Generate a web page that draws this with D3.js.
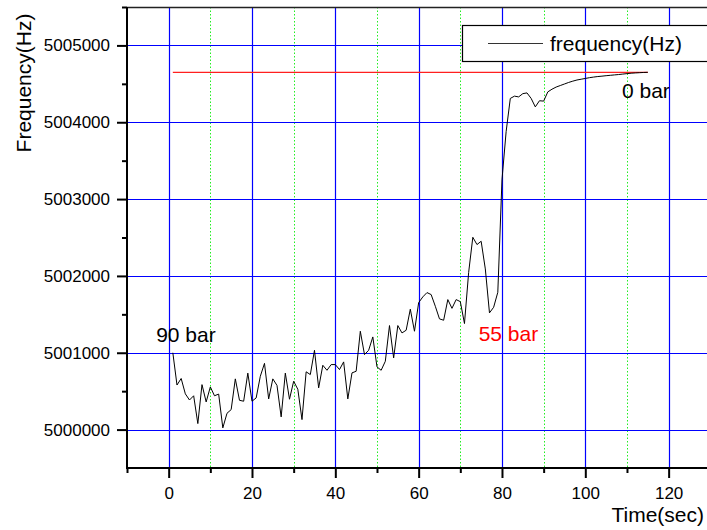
<!DOCTYPE html>
<html><head><meta charset="utf-8">
<script src="https://cdn.jsdelivr.net/npm/d3@7"></script>
<style>body{margin:0;background:#fff} svg{display:block}</style>
</head><body><svg id="c" width="707" height="530"></svg>
<script>
// ---- data ----
const times = [1,2,3,4,5,6,7,8,9,10,11,12,13,14,15,16,17,18,19,20,
  21,22,23,24,25,26,27,28,29,30,31,32,33,34,35,36,37,38,39,40,
  41,42,43,44,45,46,47,48,49,50,51,52,53,54,55,56,57,58,59,60,
  61,62,63,64,65,66,67,68,69,70,71,72,73,74,75,76,77,78,79,80,
  81,82,83,84,85,86,87,88,89,90,91,92,93,94,95,96,97,98,99,100,
  101,102,103,104,105,106,107,108,109,110,111,112,113,114,115];
const frequency = [5001000,5000580,5000665,5000465,5000385,5000440,5000078,5000585,5000360,5000555,
  5000440,5000462,5000022,5000212,5000260,5000660,5000381,5000369,5000735,5000369,
  5000412,5000694,5000862,5000399,5000660,5000575,5000165,5000735,5000395,5000629,
  5000525,5000130,5000752,5000716,5001032,5000543,5000837,5000772,5000846,5000846,
  5000781,5000881,5000399,5000738,5000759,5001280,5000976,5001032,5001206,5000816,
  5000772,5000889,5001354,5000933,5001354,5001258,5001293,5001567,5001280,5001652,
  5001727,5001783,5001757,5001605,5001441,5001423,5001692,5001578,5001692,5001665,
  5001380,5002045,5002503,5002408,5002451,5002091,5001519,5001592,5001787,5003250,
  5003880,5004310,5004340,5004330,5004372,5004382,5004310,5004200,5004280,5004275,
  5004395,5004430,5004458,5004478,5004498,5004518,5004535,5004550,5004560,5004570,
  5004580,5004588,5004595,5004600,5004606,5004611,5004616,5004621,5004627,5004633,
  5004638,5004642,5004645,5004648,5004650];
const refTimes = [1, 115];
const refFrequency = [5004650, 5004650];
const annotText = ["90 bar", "55 bar", "0 bar"];
const annotTime = [-3, 74.4, 108.8];
const annotFreq = [5001145, 5001158, 5004317];
const annotColor = ["#000000", "#ff0000", "#000000"];
const xMajorTicks = [0,20,40,60,80,100,120];
const xMinorTicks = [-10,10,30,50,70,90,110,130];
const yMajorTicks = [5000000,5001000,5002000,5003000,5004000,5005000];
const yMinorTicks = [5000500,5001500,5002500,5003500,5004500,5005500];
const legendLabel = "frequency(Hz)";
const xTitle = "Time(sec)";
const yTitle = "Frequency(Hz)";

// ---- drawing ----
const svg = d3.select("#c");
const L = 127, R = 710.3, T = 7, B = 468;
const x = d3.scaleLinear().domain([-10, 130]).range([L, R]);
const y = d3.scaleLinear().domain([4999500, 5005500]).range([B, T]);
const font = "'Liberation Sans', Arial, sans-serif";

const grid = svg.append("g");
grid.selectAll(".vmin").data(xMinorTicks.filter(d => d > -10)).enter().append("line")
  .attr("x1", d => Math.round(x(d)) + 0.5).attr("x2", d => Math.round(x(d)) + 0.5)
  .attr("y1", T).attr("y2", B)
  .attr("stroke", "#22ee22").attr("stroke-width", 1).attr("stroke-dasharray", "1.5,2");
grid.selectAll(".vmaj").data(xMajorTicks).enter().append("line")
  .attr("x1", d => Math.round(x(d)) + 0.5).attr("x2", d => Math.round(x(d)) + 0.5)
  .attr("y1", T).attr("y2", B)
  .attr("stroke", "#0000ff").attr("stroke-width", 1.2);
grid.selectAll(".hmaj").data(yMajorTicks).enter().append("line")
  .attr("x1", L).attr("x2", R)
  .attr("y1", d => Math.round(y(d)) + 0.5).attr("y2", d => Math.round(y(d)) + 0.5)
  .attr("stroke", "#0000ff").attr("stroke-width", 1.2);

// reference line
svg.append("line")
  .attr("x1", x(refTimes[0])).attr("x2", x(refTimes[1]))
  .attr("y1", y(refFrequency[0])).attr("y2", y(refFrequency[1]))
  .attr("stroke", "#ff2020").attr("stroke-width", 1.3);

// data line
const pts = times.map((t, i) => [t, frequency[i]]);
svg.append("path").datum(pts)
  .attr("d", d3.line().x(d => x(d[0])).y(d => y(d[1])))
  .attr("fill", "none").attr("stroke", "#000").attr("stroke-width", 1);

// annotations
svg.selectAll(".ann").data(annotText).enter().append("text")
  .attr("x", (d, i) => x(annotTime[i])).attr("y", (d, i) => y(annotFreq[i]))
  .attr("fill", (d, i) => annotColor[i])
  .attr("font-family", font).attr("font-size", 21).text(d => d);

// legend
const lg = svg.append("g");
lg.append("rect").attr("x", 462.5).attr("y", 25.5).attr("width", 260).attr("height", 36)
  .attr("fill", "#fff").attr("stroke", "#000").attr("stroke-width", 1.2);
lg.append("line").attr("x1", 488).attr("x2", 543).attr("y1", 43.5).attr("y2", 43.5)
  .attr("stroke", "#333").attr("stroke-width", 1);
lg.append("text").attr("x", 550).attr("y", 50.5).attr("font-family", font).attr("font-size", 21)
  .text(legendLabel);

// frame top
svg.append("line").attr("x1", L).attr("x2", R).attr("y1", T + 0.5).attr("y2", T + 0.5)
  .attr("stroke", "#222").attr("stroke-width", 1.5);

// axes
const yAx = svg.append("g").attr("transform", `translate(${L},0)`)
  .call(d3.axisLeft(y).tickValues(yMajorTicks).tickSize(10).tickPadding(7).tickFormat(d3.format("d")));
const yAxMin = svg.append("g").attr("transform", `translate(${L},0)`)
  .call(d3.axisLeft(y).tickValues(yMinorTicks).tickSize(5).tickFormat(""));
const xAx = svg.append("g").attr("transform", `translate(0,${B})`)
  .call(d3.axisBottom(x).tickValues(xMajorTicks).tickSize(10).tickPadding(9));
const xAxMin = svg.append("g").attr("transform", `translate(0,${B})`)
  .call(d3.axisBottom(x).tickValues(xMinorTicks).tickSize(5).tickFormat(""));
[yAx, yAxMin, xAx, xAxMin].forEach(g => {
  g.select(".domain").remove();
  g.selectAll(".tick line").attr("stroke", "#000").attr("stroke-width", 2);
  g.selectAll(".tick text").attr("font-family", font).attr("font-size", 17).attr("fill", "#000");
});
svg.append("line").attr("x1", L).attr("x2", L).attr("y1", T).attr("y2", B + 1)
  .attr("stroke", "#000").attr("stroke-width", 2);
svg.append("line").attr("x1", L - 1).attr("x2", R).attr("y1", B).attr("y2", B)
  .attr("stroke", "#000").attr("stroke-width", 2);

// titles
svg.append("text").attr("x", 704).attr("y", 522).attr("text-anchor", "end")
  .attr("font-family", font).attr("font-size", 21).text(xTitle);
svg.append("text").attr("transform", "translate(31,83) rotate(-90)").attr("text-anchor", "middle")
  .attr("font-family", font).attr("font-size", 21).text(yTitle);
</script>
</body></html>
